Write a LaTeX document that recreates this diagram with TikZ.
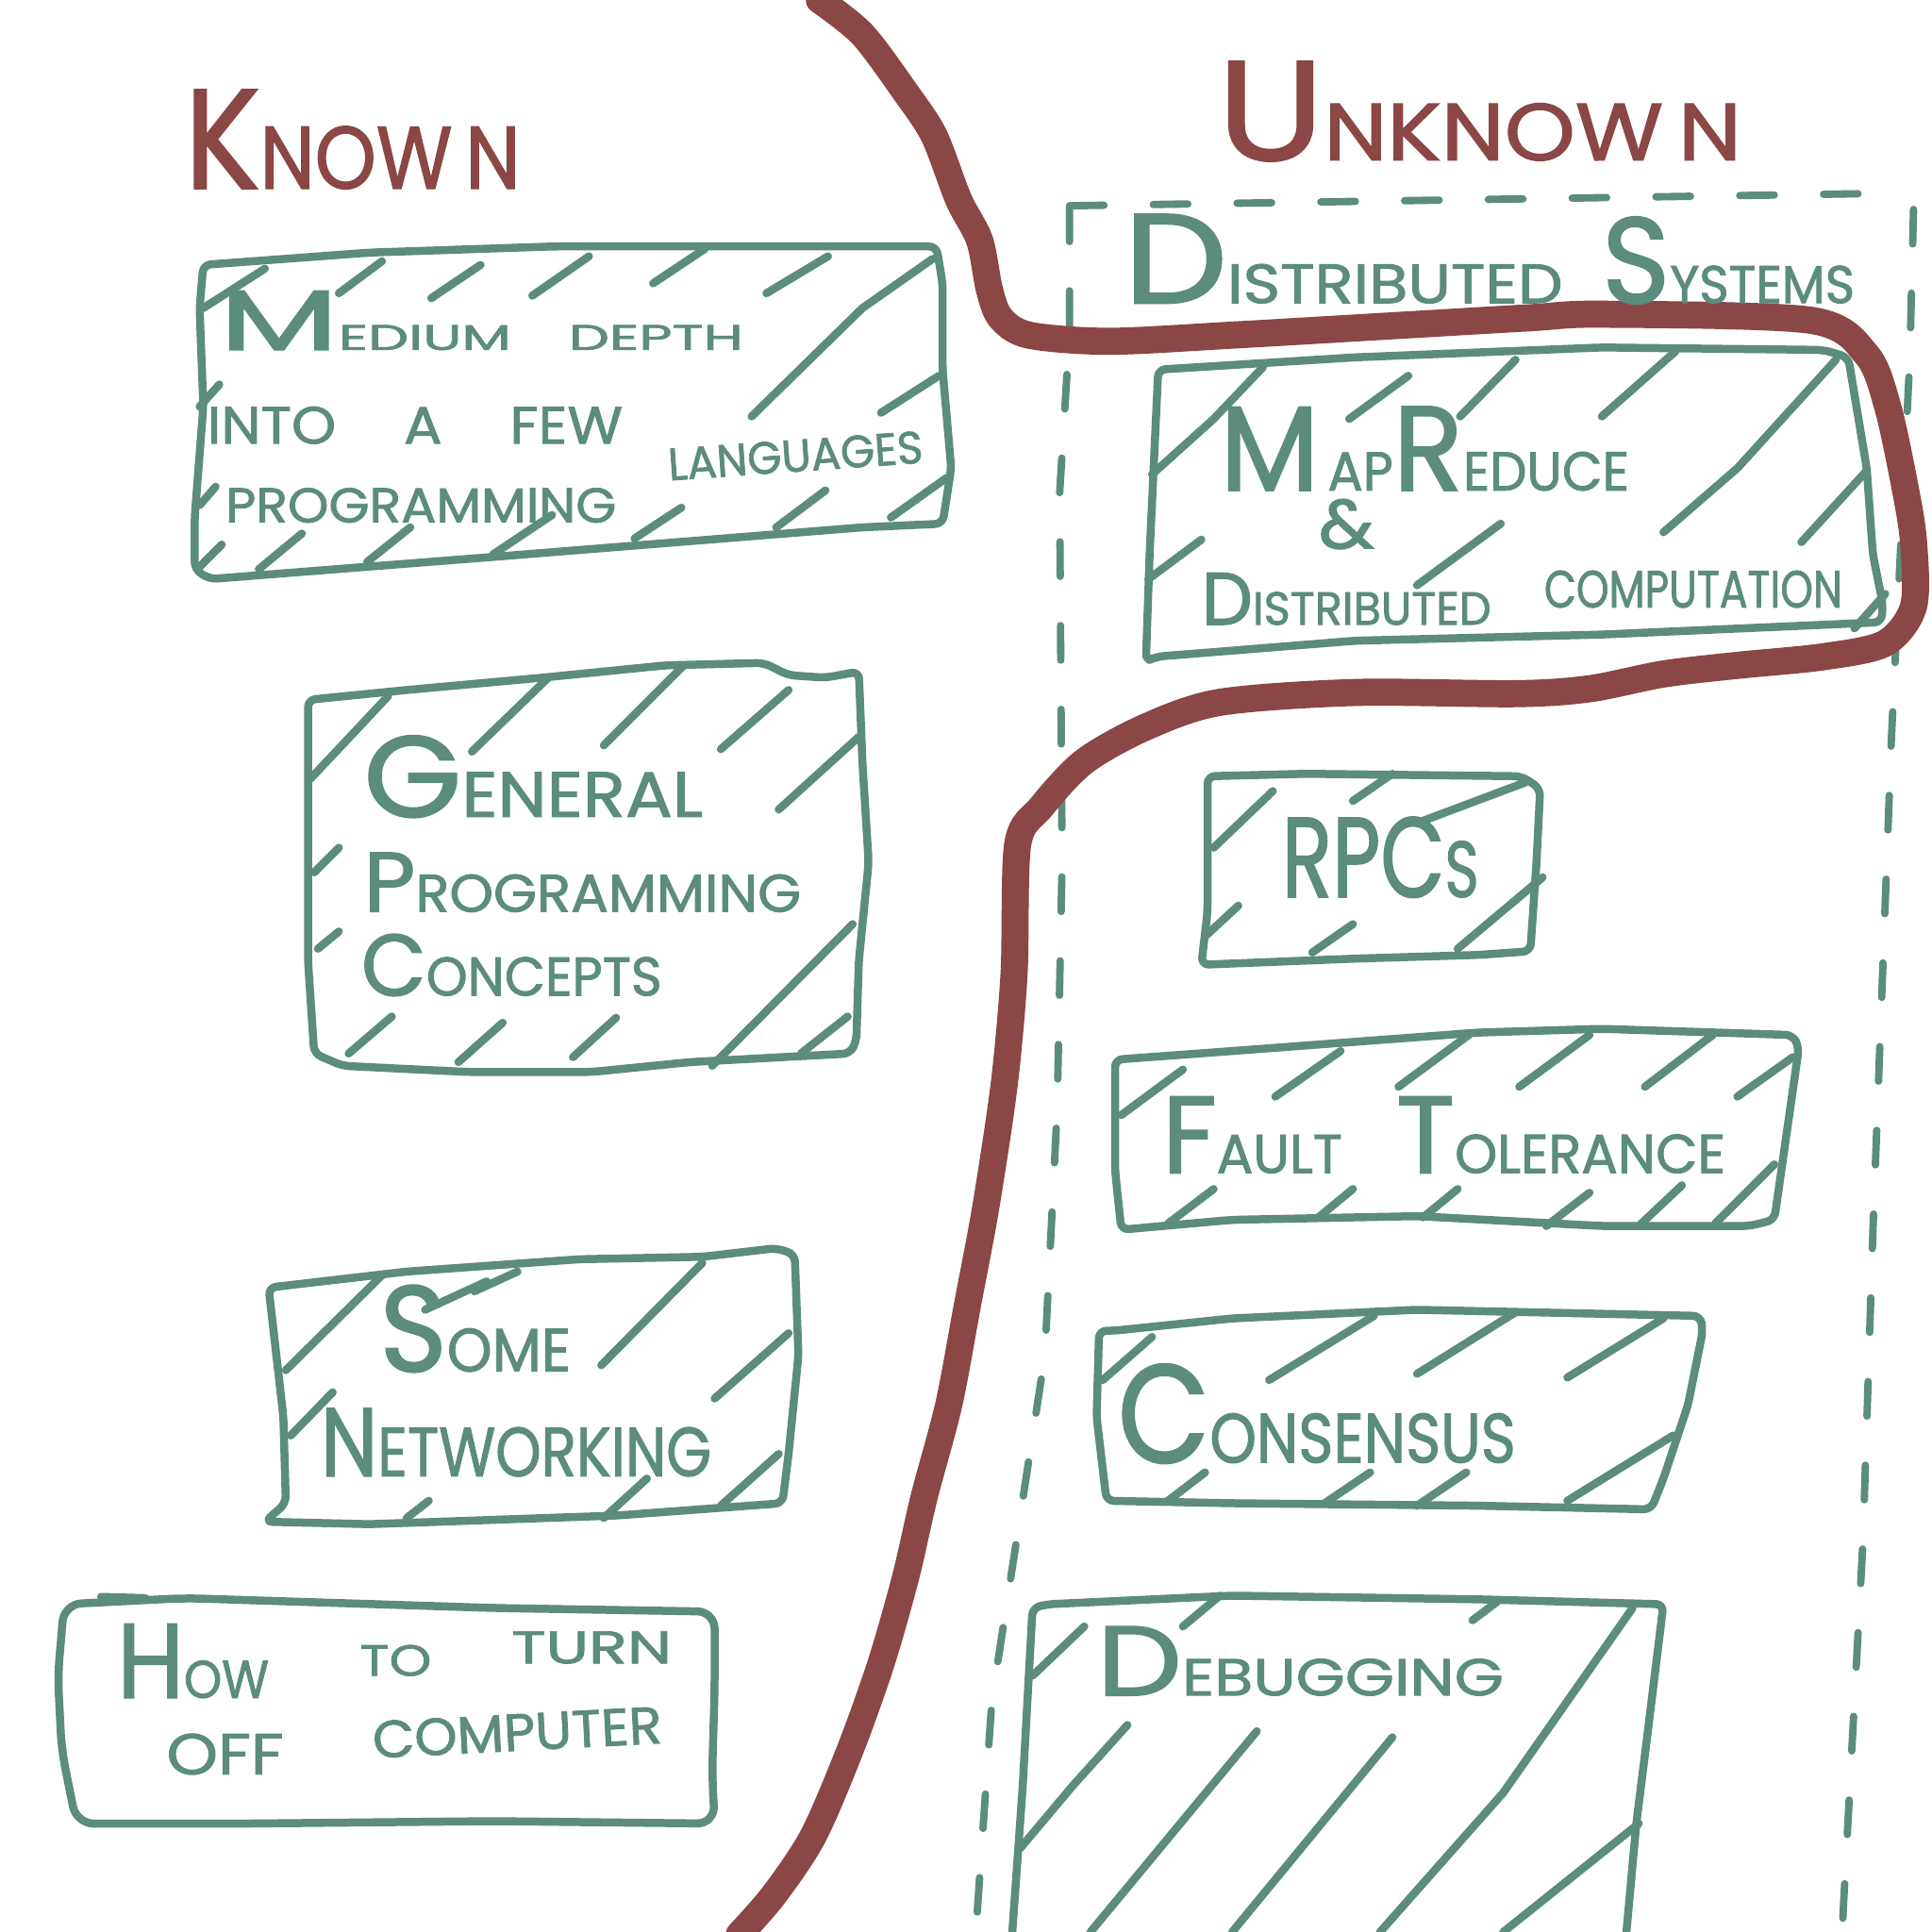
\documentclass[tikz,border=0pt]{standalone}
\usepackage{fontspec}
\usepackage{graphicx}
\setmainfont{Poppins}[FakeBold=1.5]
\definecolor{teal2}{HTML}{5B8C7D}
\definecolor{red2}{HTML}{8B4646}
\newcommand\Cap[2][1.8]{\scalebox{#1}{#2}}
\tikzset{
  box/.style={draw=teal2, line width=6.5pt, line cap=round, line join=round, rounded corners=6pt},
  hatch/.style={draw=teal2, line width=6.5pt, line cap=round, line join=round},
  txt/.style={inner sep=0pt, anchor=base west, text=teal2},
  rtxt/.style={inner sep=0pt, anchor=base west, text=red2},
  border/.style={draw=red2, line width=22pt, line cap=round, line join=round},
  dashbox/.style={draw=teal2, line width=6pt, line cap=round, dash pattern=on 28pt off 40pt}
}
\begin{document}
\begin{tikzpicture}[x=1pt,y=-1pt]
\useasboundingbox (0,0) rectangle (1568,1568);
\fill[white] (0,0) rectangle (1568,1568);

% dashed region
\draw[dashbox] (868,167) -- (1525,157);
\draw[dashbox] (1553,170) -- (1550,290) -- (1535,600) -- (1520,1000) -- (1512,1250) -- (1495,1568);
\draw[dashbox] (868,168) -- (868,270) -- (860,400) -- (862,700) -- (858,900) -- (848,1100) -- (825,1250) -- (805,1380) -- (792,1568);

% red border
\draw[border] plot[smooth, tension=0.5] coordinates {(665,0) (700,28) (735,75) (758,110) (778,162) (795,195) (803,235) (812,258) (835,272) (900,277) (1000,272) (1120,265) (1240,258) (1300,255) (1470,260) (1515,288) (1532,330) (1546,395) (1553,440) (1553,492) (1530,522) (1480,533) (1410,540) (1350,547) (1290,559) (1230,563) (1100,562) (990,570) (930,590) (880,618) (845,655) (826,685) (823,790) (815,880) (800,980) (785,1060) (770,1140) (750,1215) (735,1280) (715,1350) (690,1420) (660,1490) (628,1538) (600,1570)};

% titles
\node[rtxt] (known) at (150,153) {\resizebox{272pt}{80pt}{\Cap[1.6]{K}NOW\,N}};
\node[rtxt] (unknown) at (988,130) {\resizebox{425pt}{80pt}{\Cap[1.75]{U}NKNOW\,N}};
\node[txt] (ds1) at (912,246) {\resizebox{356pt}{72pt}{\Cap[2.3]{D}ISTRIBUTED}};
\node[txt] (ds2) at (1300,246) {\resizebox{205pt}{70pt}{\Cap[2.3]{S}YSTEMS}};

% Box 1: Medium depth
\draw[box] (165,215) -- (300,205) -- (450,200) -- (600,200) -- (760,200) -- (765,230) -- (765,300) -- (772,380) -- (765,425) -- (700,428) -- (400,452) -- (170,470) -- (158,462) -- (158,420) -- (165,330) -- (162,250) -- cycle;
\foreach \a/\b/\c/\d in {165/250/215/218, 275/238/310/212, 350/242/390/215, 432/240/478/208, 530/230/572/202, 622/238/672/208, 715/335/762/305, 162/330/178/312, 162/410/175/395, 160/462/180/442, 210/462/245/433, 298/456/333/428, 400/450/448/418, 515/437/553/412, 630/428/670/398, 723/420/768/388}
  \draw[hatch] (\a,\b) -- (\c,\d);
\draw[hatch] (610,338) -- (700,250) -- (757,210);
\node[txt] (md) at (178,284) {\resizebox{425pt}{48pt}{\Cap[2.4]{M}EDIUM\hspace{1em}DEPTH}};
\node[txt] (itf) at (168,360) {\resizebox{337pt}{30pt}{INTO\hspace{1.2em}A\hspace{1.2em}FEW}};
\node[txt] (prog) at (183,424) {\resizebox{317pt}{28pt}{PROGRAMMING}};
\node[txt, rotate=4] (lang) at (543,390) {\resizebox{207pt}{26pt}{LANGUAGES}};

% Box 2: General Programming Concepts
\draw[box] (250,568) -- (330,560) -- (440,550) -- (540,540) -- (620,538) -- (640,548) -- (670,550) -- (697,545) -- (700,620) -- (705,700) -- (697,780) -- (695,845) -- (690,855) -- (560,862) -- (480,870) -- (380,870) -- (278,865) -- (255,855) -- (250,780) -- (250,700) -- cycle;
\foreach \a/\b/\c/\d in {252/632/315/565, 383/610/445/550, 490/605/555/540, 585/608/640/560, 632/657/697/598, 255/708/275/688, 258/770/275/756, 283/855/318/825, 372/862/408/830, 465/858/500/826, 578/865/692/750, 650/855/688/825}
  \draw[hatch] (\a,\b) -- (\c,\d);
\node[txt] (gen) at (295,663) {\resizebox{275pt}{66pt}{\Cap[1.8]{G}ENERAL}};
\node[txt] (gprog) at (295,740) {\resizebox{355pt}{48pt}{\Cap[1.6]{P}ROGRAMMING}};
\node[txt] (conc) at (293,808) {\resizebox{244pt}{50pt}{\Cap[1.6]{C}ONCEPTS}};

% Box 3: Some Networking
\draw[box] (218,1045) -- (330,1032) -- (470,1022) -- (570,1020) -- (630,1013) -- (645,1018) -- (648,1100) -- (640,1180) -- (635,1220) -- (500,1230) -- (300,1237) -- (215,1235) -- (232,1220) -- (230,1150) -- cycle;
\foreach \a/\b/\c/\d in {232/1112/310/1035, 345/1063/395/1040, 385/1048/420/1032, 488/1108/570/1025, 580/1135/640/1082, 236/1165/270/1130, 330/1232/348/1218, 490/1232/525/1200, 585/1222/632/1180}
  \draw[hatch] (\a,\b) -- (\c,\d);
\node[txt] (some) at (308,1113) {\resizebox{155pt}{70pt}{\Cap[2]{S}OME}};
\node[txt] (net) at (260,1198) {\resizebox{317pt}{55pt}{\Cap[1.4]{N}ETWORKING}};

% Box 4: How to turn off computer
\draw[box, rounded corners=14pt] (52,1302) -- (150,1297) -- (400,1305) -- (580,1308) -- (580,1370) -- (578,1440) -- (580,1480) -- (400,1478) -- (200,1480) -- (62,1480) -- (50,1420) -- (47,1360) -- cycle;
\draw[hatch] (82,1296) -- (118,1297);
\node[txt] (how) at (95,1378) {\resizebox{123pt}{60pt}{\Cap[2]{H}OW}};
\node[txt] (to) at (292,1360) {\resizebox{58pt}{25pt}{TO}};
\node[txt] (turn) at (415,1350) {\resizebox{130pt}{26pt}{TURN}};
\node[txt] (off) at (135,1440) {\resizebox{95pt}{33pt}{OFF}};
\node[txt, rotate=3] (comp) at (303,1427) {\resizebox{235pt}{30pt}{COMPUTER}};

% Box 5: MapReduce
\draw[box] (940,300) -- (1100,290) -- (1300,282) -- (1480,284) -- (1500,290) -- (1515,380) -- (1520,450) -- (1528,490) -- (1527,505) -- (1300,515) -- (1100,520) -- (938,533) -- (930,537) -- (933,450) -- cycle;
\foreach \a/\b/\c/\d in {1095/340/1143/305, 1185/338/1230/292, 1300/338/1360/285, 1462/440/1515/382, 932/470/975/438, 1150/475/1218/425, 1505/510/1530/482}
  \draw[hatch] (\a,\b) -- (\c,\d);
\draw[hatch] (935,385) -- (985,340) -- (1025,298);
\draw[hatch] (1350,432) -- (1410,380) -- (1490,292);
\node[txt] (mr) at (990,398) {\resizebox{332pt}{68pt}{\Cap[2.2]{M}\,AP\Cap[2.2]{R}EDUCE}};
\node[txt] (amp) at (1070,445) {\resizebox{45pt}{40pt}{\&}};
\node[txt] (dist) at (975,507) {\resizebox{235pt}{42pt}{\Cap[1.6]{D}ISTRIBUTED}};
\node[txt] (compu) at (1253,493) {\resizebox{242pt}{30pt}{COMPUTATION}};

% Box 6: RPCs
\draw[box] (980,630) -- (1060,628) -- (1235,630) -- (1250,640) -- (1247,700) -- (1242,772) -- (1200,775) -- (1100,778) -- (975,783) -- (980,740) -- cycle;
\foreach \a/\b/\c/\d in {985/688/1033/642, 1098/650/1130/628, 1150/668/1238/635, 1183/770/1252/712, 1065/773/1098/750, 978/760/1005/735}
  \draw[hatch] (\a,\b) -- (\c,\d);
\node[txt] (rpc) at (1040,728) {\resizebox{160pt}{65pt}{RPC\scalebox{0.7}{S}}};

% Box 7: Fault Tolerance
\draw[box] (905,860) -- (1000,853) -- (1200,838) -- (1300,835) -- (1455,840) -- (1460,850) -- (1450,920) -- (1440,990) -- (1420,995) -- (1300,995) -- (1150,987) -- (1000,990) -- (910,998) -- (905,950) -- cycle;
\foreach \a/\b/\c/\d in {910/905/960/868, 1035/890/1088/853, 1135/882/1192/840, 1233/882/1290/840, 1335/882/1390/840, 1410/890/1455/858, 948/993/985/965, 1070/988/1098/965, 1155/988/1183/965, 1255/995/1290/968, 1330/995/1365/962, 1392/993/1440/945}
  \draw[hatch] (\a,\b) -- (\c,\d);
\node[txt] (ft) at (943,952) {\resizebox{457pt}{62pt}{\Cap[2]{F}AULT\hspace{1em}\Cap[2]{T}OLERANCE}};

% Box 8: Consensus
\draw[box] (904,1080) -- (1000,1070) -- (1150,1063) -- (1380,1068) -- (1382,1080) -- (1370,1140) -- (1350,1200) -- (1340,1225) -- (1200,1222) -- (1000,1220) -- (898,1218) -- (890,1150) -- (892,1080) -- cycle;
\foreach \a/\b/\c/\d in {895/1120/935/1085, 1030/1120/1115/1068, 1150/1115/1230/1065, 1272/1118/1350/1070, 1272/1218/1358/1165, 948/1218/978/1195, 1075/1220/1112/1195, 1150/1222/1190/1195}
  \draw[hatch] (\a,\b) -- (\c,\d);
\node[txt] (cons) at (907,1187) {\resizebox{323pt}{80pt}{\Cap[2]{C}ONSENSUS}};

% Box 9: Debugging
\draw[box] (820,1590) -- (830,1450) -- (838,1305) -- (850,1302) -- (1000,1295) -- (1200,1298) -- (1350,1302) -- (1338,1400) -- (1328,1480) -- (1318,1590);
\foreach \a/\b/\c/\d in {838/1360/880/1320, 960/1320/990/1295, 1195/1315/1215/1300}
  \draw[hatch] (\a,\b) -- (\c,\d);
\draw[hatch] (828,1500) -- (870,1450) -- (915,1400);
\draw[hatch] (885,1568) -- (1020,1405);
\draw[hatch] (1000,1568) -- (1130,1410);
\draw[hatch] (1120,1568) -- (1220,1455) -- (1325,1305);
\draw[hatch] (1220,1568) -- (1330,1480);
\node[txt] (dbg) at (890,1376) {\resizebox{330pt}{56pt}{\Cap[1.9]{D}EBUGGING}};
\end{tikzpicture}
\end{document}
